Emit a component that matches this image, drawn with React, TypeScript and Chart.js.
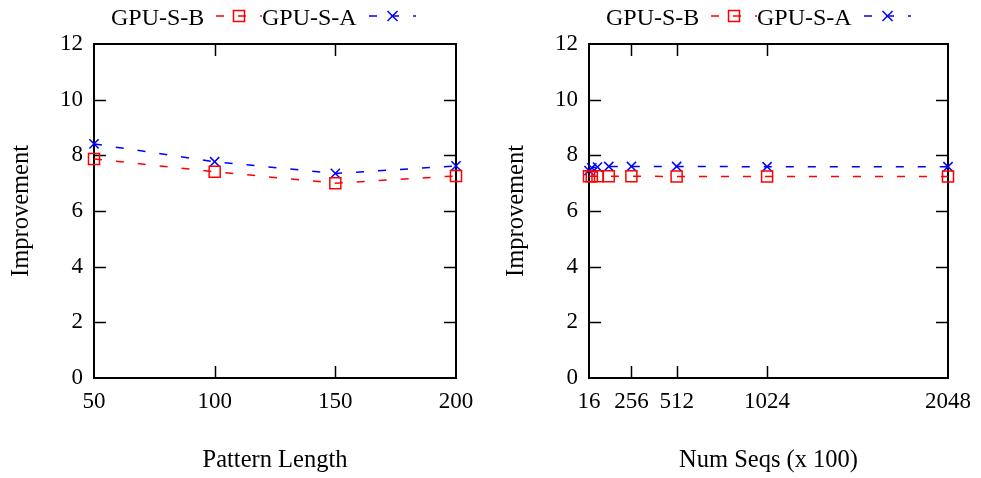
import React, { useEffect, useRef } from "react";
import { Chart, registerables } from "chart.js";

Chart.register(...registerables);

// ---- Data ----
const patternLengths = [50, 100, 150, 200];
const leftGpuSB = [7.87, 7.41, 7.0, 7.26];
const leftGpuSA = [8.41, 7.77, 7.35, 7.62];

const numSeqs = [16, 32, 64, 128, 256, 512, 1024, 2048];
const rightGpuSB = [7.25, 7.25, 7.25, 7.25, 7.25, 7.24, 7.24, 7.24];
const rightGpuSA = [7.45, 7.55, 7.58, 7.6, 7.6, 7.6, 7.59, 7.59];

const leftXTicks = [50, 100, 150, 200];
const rightXTicks = [16, 256, 512, 1024, 2048];
const yTicks = [0, 2, 4, 6, 8, 10, 12];

const seriesNames = ["GPU-S-B", "GPU-S-A"];
const seriesColors = ["#ff0000", "#0000ff"];

const FONT = "'Liberation Serif', 'Times New Roman', serif";
const FSIZE = 23;
const TITLE_SIZE = 24.5;
const LEGEND_SIZE = 24;
const DASH = [8, 14];

const framePlugin = {
  id: "gnuFrame",
  beforeDatasetsDraw(chart: any) {
    const { ctx, chartArea } = chart;
    const { left, right, top, bottom } = chartArea;
    const xs = chart.scales.x;
    const ys = chart.scales.y;
    ctx.save();
    ctx.strokeStyle = "#000";
    ctx.lineWidth = 2;
    ctx.setLineDash([]);
    ctx.strokeRect(left, top, right - left, bottom - top);
    ctx.lineWidth = 1.5;
    const tl = 12;
    xs.ticks.forEach((t: any) => {
      const p = Math.round(xs.getPixelForValue(t.value)) + 0.5;
      if (p > left + 2 && p < right - 2) {
        ctx.beginPath();
        ctx.moveTo(p, bottom);
        ctx.lineTo(p, bottom - tl);
        ctx.moveTo(p, top);
        ctx.lineTo(p, top + tl);
        ctx.stroke();
      }
    });
    ys.ticks.forEach((t: any) => {
      const p = Math.round(ys.getPixelForValue(t.value)) + 0.5;
      if (p > top + 2 && p < bottom - 2) {
        ctx.beginPath();
        ctx.moveTo(left, p);
        ctx.lineTo(left + tl, p);
        ctx.moveTo(right, p);
        ctx.lineTo(right - tl, p);
        ctx.stroke();
      }
    });
    ctx.restore();
  },
  afterDraw(chart: any) {
    const { ctx, chartArea } = chart;
    const base = chartArea.left;
    ctx.save();
    ctx.font = `${LEGEND_SIZE}px ${FONT}`;
    ctx.fillStyle = "#000";
    ctx.textBaseline = "alphabetic";
    ctx.textAlign = "left";
    const y = 16;
    const entries = [
      { text: seriesNames[0], tx: base + 17, sx: base + 122, ex: base + 168, style: "rect", color: seriesColors[0] },
      { text: seriesNames[1], tx: base + 168, sx: base + 275, ex: base + 322, style: "crossRot", color: seriesColors[1] },
    ];
    entries.forEach((e) => {
      ctx.fillStyle = "#000";
      ctx.fillText(e.text, e.tx, 25);
      ctx.strokeStyle = e.color;
      ctx.lineWidth = 1.5;
      ctx.setLineDash(DASH);
      ctx.beginPath();
      ctx.moveTo(e.sx, y);
      ctx.lineTo(e.ex, y);
      ctx.stroke();
      ctx.setLineDash([]);
      const cx = (e.sx + e.ex) / 2;
      ctx.beginPath();
      if (e.style === "rect") {
        ctx.rect(cx - 5.5, y - 5.5, 11, 11);
      } else {
        ctx.moveTo(cx - 5, y - 5);
        ctx.lineTo(cx + 5, y + 5);
        ctx.moveTo(cx + 5, y - 5);
        ctx.lineTo(cx - 5, y + 5);
      }
      ctx.stroke();
    });
    ctx.restore();
  },
};

function makeConfig(
  xs: number[],
  sb: number[],
  sa: number[],
  xMin: number,
  xMax: number,
  xTicks: number[],
  xTitle: string,
  yWidth: number,
  rightPad: number,
  yTitlePad: number
): any {
  const ds = (label: string, data: number[], color: string, style: string, radius: number) => ({
    label,
    data: xs.map((x, i) => ({ x, y: data[i] })),
    borderColor: color,
    backgroundColor: "transparent",
    borderWidth: 1.5,
    borderDash: DASH,
    pointStyle: style,
    pointRadius: radius,
    pointBorderWidth: 1.5,
    pointBorderColor: color,
    pointBackgroundColor: "transparent",
    tension: 0,
    clip: false,
    fill: false,
  });
  return {
    type: "line",
    data: {
      datasets: [
        ds(seriesNames[0], sb, seriesColors[0], "rect", 7.8),
        ds(seriesNames[1], sa, seriesColors[1], "crossRot", 6.5),
      ],
    },
    options: {
      animation: false,
      responsive: false,
      devicePixelRatio: 1,
      layout: { padding: { top: 44, right: rightPad, left: 0, bottom: 0 } },
      plugins: { legend: { display: false }, tooltip: { enabled: false } },
      scales: {
        x: {
          type: "linear",
          min: xMin,
          max: xMax,
          afterBuildTicks: (scale: any) => {
            scale.ticks = xTicks.map((v) => ({ value: v }));
          },
          afterFit: (scale: any) => {
            scale.height = 100;
          },
          grid: { display: false, drawTicks: false },
          border: { display: false },
          ticks: {
            color: "#000",
            font: { family: FONT, size: FSIZE },
            padding: 10,
            maxRotation: 0,
            autoSkip: false,
            callback: (v: any) => String(v),
          },
          title: {
            display: true,
            text: xTitle,
            color: "#000",
            font: { family: FONT, size: TITLE_SIZE },
            padding: { top: 0, bottom: 3 },
          },
        },
        y: {
          type: "linear",
          min: 0,
          max: 12,
          afterBuildTicks: (scale: any) => {
            scale.ticks = yTicks.map((v) => ({ value: v }));
          },
          afterFit: (scale: any) => {
            scale.width = yWidth;
          },
          grid: { display: false, drawTicks: false },
          border: { display: false },
          ticks: {
            color: "#000",
            font: { family: FONT, size: FSIZE },
            padding: 11,
            callback: (v: any) => String(v),
          },
          title: {
            display: true,
            text: "Improvement",
            color: "#000",
            font: { family: FONT, size: TITLE_SIZE },
            padding: { top: yTitlePad, bottom: 0 },
          },
        },
      },
    },
    plugins: [framePlugin],
  };
}

function ChartCanvas({ config, width, height, left }: any) {
  const ref = useRef<HTMLCanvasElement | null>(null);
  useEffect(() => {
    if (!ref.current) return;
    const chart = new Chart(ref.current, config);
    return () => chart.destroy();
  }, []);
  return (
    <canvas
      ref={ref}
      width={width}
      height={height}
      style={{ position: "absolute", left, top: 0, width, height }}
    />
  );
}

export default function App() {
  const leftCfg = makeConfig(
    patternLengths,
    leftGpuSB,
    leftGpuSA,
    50,
    200,
    leftXTicks,
    "Pattern Length",
    94,
    34,
    7
  );
  const rightCfg = makeConfig(
    numSeqs,
    rightGpuSB,
    rightGpuSA,
    16,
    2048,
    rightXTicks,
    "Num Seqs (x 100)",
    99,
    32,
    12
  );
  return (
    <div style={{ position: "absolute", left: 0, top: 0, width: 981, height: 478, background: "#fff" }}>
      <ChartCanvas config={leftCfg} width={490} height={478} left={0} />
      <ChartCanvas config={rightCfg} width={491} height={478} left={490} />
    </div>
  );
}
